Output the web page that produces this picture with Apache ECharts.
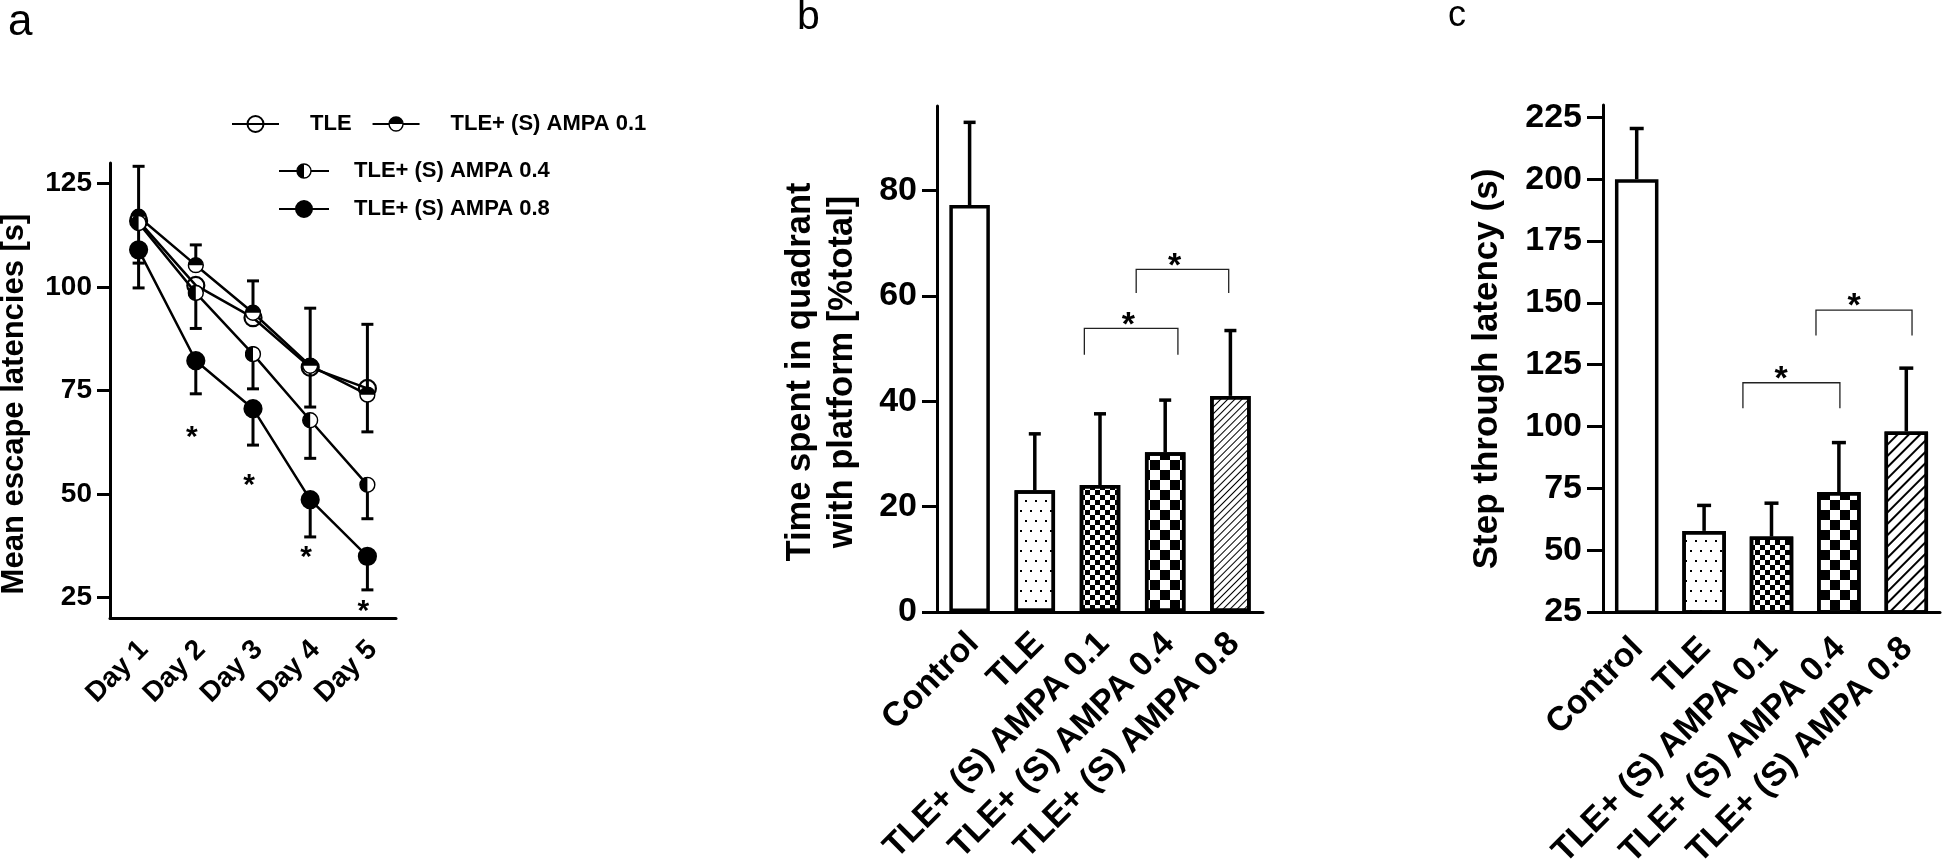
<!DOCTYPE html>
<html><head><meta charset="utf-8">
<script src="https://cdn.jsdelivr.net/npm/echarts@6/dist/echarts.min.js"></script>
<style>html,body{margin:0;padding:0;background:#fff}#c{width:1946px;height:860px}</style>
</head><body><div id="c"></div>
<script>
// ---------- Panel a data ----------
const days = ['Day 1', 'Day 2', 'Day 3', 'Day 4', 'Day 5'];
const groupsA = ['TLE', 'TLE+ (S) AMPA 0.1', 'TLE+ (S) AMPA 0.4', 'TLE+ (S) AMPA 0.8'];
const tleMean   = [116, 100.4, 92.6, 80.6, 75.5];
const amp01Mean = [117, 105.3, 93.8, 81.0, 74.0];
const amp04Mean = [115.5, 98.6, 83.8, 67.8, 52.2];
const amp08Mean = [109, 82.2, 70.6, 48.6, 34.9];
const tleErrUp     = [13.2, null, null, 14.3, 15.5];
const tleErrDown   = [null, 10.4, null, null, null];
const amp01ErrUp   = [null, 4.9, 7.7, null, null];
const amp01ErrDown = [null, null, null, 10, 9];
const amp04ErrUp   = [null, null, null, null, null];
const amp04ErrDown = [9.7, null, 8.4, 9.2, 8.2];
const amp08ErrUp   = [null, null, null, null, null];
const amp08ErrDown = [9.2, 8, 8.8, 9, 8.1];
const latencyTicks = [25, 50, 75, 100, 125];
const starsA = [[1, 65], [2, 53.4], [3, 36.1], [4, 22.9]];
const titleA = 'Mean escape latencies [s]';

// ---------- Panel b / c data ----------
const groupsBC = ['Control', 'TLE', 'TLE+ (S) AMPA 0.1', 'TLE+ (S) AMPA 0.4', 'TLE+ (S) AMPA 0.8'];
const quadrantMean = [77.2, 23.1, 24.1, 30.3, 41.0];
const quadrantErr  = [15.7, 10.7, 13.5, 9.9, 12.4];
const quadrantTicks = [0, 20, 40, 60, 80];
const titleB = 'Time spent in quadrant\nwith platform [%total]';
const stepMean = [200, 57.8, 55.5, 73.5, 98];
const stepErr  = [20.5, 10.3, 13.5, 20, 25.6];
const stepTicks = [25, 50, 75, 100, 125, 150, 175, 200, 225];
const titleC = 'Step through latency (s)';
// [left position, right position, bracket value, leg end value, star position]
const bracketsB = [[1.76, 3.195, 53.8, 48.8, 2.434], [2.555, 3.974, 65.0, 60.5, 3.143]];
const bracketsC = [[1.576, 3.015, 117.7, 107.4, 2.144], [2.66, 4.085, 147.1, 136.8, 3.227]];

// ---------- styles ----------
const FF = '"Liberation Sans", Arial, sans-serif';
function halfSym(path) {
  const svg = '<svg xmlns="http://www.w3.org/2000/svg" width="40" height="40" viewBox="0 0 40 40">' +
    '<circle cx="20" cy="20" r="17.5" fill="#fff" stroke="#000" stroke-width="3.5"/>' +
    '<path d="' + path + '" fill="#000"/></svg>';
  return 'image://data:image/svg+xml;charset=utf-8,' + encodeURIComponent(svg);
}
const symTop = halfSym('M2.5,20 A17.5,17.5 0 0 1 37.5,20 Z');
const symLeft = halfSym('M20,2.5 A17.5,17.5 0 0 0 20,37.5 Z');

const decalDots = {symbol: 'rect', symbolSize: 1, color: '#000', dashArrayX: [[2, 8], [0, 5, 2, 3]], dashArrayY: [2, 8]};
const decalFine = {symbol: 'rect', symbolSize: 1, color: '#000', dashArrayX: [[5, 5], [0, 5, 5, 0]], dashArrayY: [5, 0]};
const decalCoarse = {symbol: 'rect', symbolSize: 1, color: '#000', dashArrayX: [[10, 10], [0, 10, 10, 0]], dashArrayY: [10, 0]};
function decalHatch(w, gap) {
  return {symbol: 'rect', symbolSize: 1, symbolKeepAspect: false, color: '#000', dashArrayX: [20, 0], dashArrayY: [w, gap], rotation: -Math.PI / 4};
}
const decalsB = [null, decalDots, decalFine, decalCoarse, decalHatch(1, 4)];
const decalsC = [null, decalDots, decalFine, decalCoarse, decalHatch(2, 6)];

// ---------- helpers ----------
function errRender(capHalf, lw) {
  return function (params, api) {
    const x = api.value(0);
    const p0 = api.coord([x, api.value(1)]);
    const p1 = api.coord([x, api.value(2)]);
    return {type: 'group', children: [
      {type: 'line', shape: {x1: p0[0], y1: p0[1], x2: p1[0], y2: p1[1]}, style: {stroke: '#000', lineWidth: lw}},
      {type: 'line', shape: {x1: p1[0] - capHalf, y1: p1[1], x2: p1[0] + capHalf, y2: p1[1]}, style: {stroke: '#000', lineWidth: lw}}
    ]};
  };
}
function bracketRender(list, fontSize) {
  return function (params, api) {
    const b = list[params.dataIndex];
    const bw = api.size([1, 0])[0];
    const px = p => { const c = Math.round(p); return api.coord([c, 0])[0] + (p - c) * bw; };
    const yTop = api.coord([0, b[2]])[1];
    const yLeg = api.coord([0, b[3]])[1];
    const xl = px(b[0]), xr = px(b[1]);
    return {type: 'group', children: [
      {type: 'polyline', shape: {points: [[xl, yLeg], [xl, yTop], [xr, yTop], [xr, yLeg]]}, style: {stroke: '#222', lineWidth: 1.3, fill: null}},
      {type: 'text', x: px(b[4]), y: yTop - 3, style: {text: '*', font: 'bold ' + fontSize + 'px ' + FF, fill: '#000', align: 'center', verticalAlign: 'middle'}}
    ]};
  };
}

const errItemsA = [];
[[tleMean, tleErrUp, tleErrDown], [amp01Mean, amp01ErrUp, amp01ErrDown],
 [amp04Mean, amp04ErrUp, amp04ErrDown], [amp08Mean, amp08ErrUp, amp08ErrDown]].forEach(([m, up, dn]) => {
  m.forEach((v, j) => {
    if (up[j] != null) errItemsA.push([j, v, v + up[j]]);
    if (dn[j] != null) errItemsA.push([j, v, v - dn[j]]);
  });
});

function lineSeries(name, data, symbol, fill) {
  return {type: 'line', name: name, xAxisIndex: 0, yAxisIndex: 0, data: data, symbol: symbol, symbolSize: 17,
    showAllSymbol: true, lineStyle: {color: '#000', width: 2.5},
    itemStyle: {color: fill, borderColor: '#000', borderWidth: 2.2}, z: 3};
}

const axisLineStyle = {show: true, lineStyle: {color: '#000', width: 3}};
function xCat(grid, data, fs, margin, lh, padR) {
  return {type: 'category', gridIndex: grid, data: data, boundaryGap: true,
    axisLine: axisLineStyle, axisTick: {show: false},
    axisLabel: {interval: 0, hideOverlap: false, rotate: 45, color: '#000', fontFamily: FF, fontWeight: 'bold',
      fontSize: fs, margin: margin, verticalAlign: 'top', lineHeight: lh, padding: [0, padR, 0, 0]},
    splitLine: {show: false}};
}
function yVal(grid, min, max, ticks, fs, tickLen, lblMargin) {
  return {type: 'value', gridIndex: grid, min: min, max: max,
    axisLine: axisLineStyle,
    axisTick: {show: true, length: tickLen, lineStyle: {color: '#000', width: 3}, customValues: ticks},
    axisLabel: {customValues: ticks, color: '#000', fontFamily: FF, fontWeight: 'bold', fontSize: fs, margin: lblMargin},
    splitLine: {show: false}};
}
function yTitle(text, x, y, fs, lh) {
  return {type: 'text', x: x, y: y, rotation: Math.PI / 2, silent: true,
    style: {text: text, font: 'bold ' + fs + 'px ' + FF, fill: '#000', align: 'center', verticalAlign: 'middle', lineHeight: lh}};
}

const legendText = pad => ({color: '#000', fontFamily: FF, fontWeight: 'bold', fontSize: 22, padding: [0, 0, 0, pad]});

const option = {
  animation: false,
  backgroundColor: '#fff',
  title: [
    {text: 'a', left: 8, top: 1, padding: 0, textStyle: {fontFamily: FF, fontWeight: 'normal', fontSize: 44, color: '#000'}},
    {text: 'b', left: 797, top: -3, padding: 0, textStyle: {fontFamily: FF, fontWeight: 'normal', fontSize: 41, color: '#000'}},
    {text: 'c', left: 1448, top: -2, padding: 0, textStyle: {fontFamily: FF, fontWeight: 'normal', fontSize: 36, color: '#000'}}
  ],
  graphic: [
    yTitle(titleA, 14, 404, 31, 36),
    yTitle(titleB, 821, 372, 34.5, 42),
    yTitle(titleC, 1487, 369, 35, 40)
  ],
  legend: [
    {data: [groupsA[0], groupsA[1]], left: 231, top: 113, padding: 0, itemWidth: 47, itemHeight: 20, itemGap: 20,
      selectedMode: false, textStyle: legendText(26)},
    {data: [groupsA[2], groupsA[3]], orient: 'vertical', left: 278, top: 160, padding: 0, itemWidth: 50, itemHeight: 20, itemGap: 16,
      selectedMode: false, textStyle: legendText(20)}
  ],
  grid: [
    {left: 110, top: 163, width: 286, height: 455, containLabel: false, outerBoundsMode: 'none'},
    {left: 937, top: 106, width: 326, height: 506, containLabel: false, outerBoundsMode: 'none'},
    {left: 1603, top: 105, width: 337, height: 507, containLabel: false, outerBoundsMode: 'none'}
  ],
  xAxis: [
    xCat(0, days, 28, 12, 29, 7),
    xCat(1, groupsBC, 34, 17, 19, 4),
    xCat(2, groupsBC, 34, 19, 19, 8)
  ],
  yAxis: [
    yVal(0, 20, 130, latencyTicks, 28, 13, 18),
    yVal(1, 0, 96, quadrantTicks, 34, 15, 20),
    yVal(2, 25, 230, stepTicks, 34, 16, 21)
  ],
  series: [
    {type: 'custom', name: 'errA', xAxisIndex: 0, yAxisIndex: 0, data: errItemsA, encode: {x: 0, y: [1, 2]},
      renderItem: errRender(6, 3), z: 2},
    lineSeries(groupsA[0], tleMean, 'circle', 'rgba(255,255,255,0)'),
    lineSeries(groupsA[1], amp01Mean, symTop, '#fff'),
    lineSeries(groupsA[2], amp04Mean, symLeft, '#fff'),
    lineSeries(groupsA[3], amp08Mean, 'circle', '#000'),
    {type: 'custom', name: 'starsA', xAxisIndex: 0, yAxisIndex: 0, data: starsA, encode: {x: 0, y: 1}, z: 4,
      renderItem: function (params, api) {
        const p = api.coord([api.value(0), api.value(1)]);
        return {type: 'text', x: p[0] - 4, y: p[1] + 6,
          style: {text: '*', font: 'bold 30px ' + FF, fill: '#000', align: 'center', verticalAlign: 'middle'}};
      }},

    {type: 'bar', name: 'quadrant', xAxisIndex: 1, yAxisIndex: 1, barWidth: 40.5,
      data: quadrantMean.map((v, i) => ({value: v, itemStyle: decalsB[i] ? {decal: decalsB[i]} : {}})),
      itemStyle: {color: '#fff', borderColor: '#000', borderWidth: 3.5}},
    {type: 'custom', name: 'errB', xAxisIndex: 1, yAxisIndex: 1, encode: {x: 0, y: [1, 2]},
      data: quadrantMean.map((v, i) => [i, v, v + quadrantErr[i]]), renderItem: errRender(6, 3.5), z: 3},
    {type: 'custom', name: 'bracketsB', xAxisIndex: 1, yAxisIndex: 1, encode: {x: 0, y: 1},
      data: bracketsB.map(b => [Math.round(b[4]), b[2]]), renderItem: bracketRender(bracketsB, 34), z: 4},

    {type: 'bar', name: 'step', xAxisIndex: 2, yAxisIndex: 2, barWidth: 43.5,
      data: stepMean.map((v, i) => ({value: v, itemStyle: decalsC[i] ? {decal: decalsC[i]} : {}})),
      itemStyle: {color: '#fff', borderColor: '#000', borderWidth: 3.5}},
    {type: 'custom', name: 'errC', xAxisIndex: 2, yAxisIndex: 2, encode: {x: 0, y: [1, 2]},
      data: stepMean.map((v, i) => [i, v, v + stepErr[i]]), renderItem: errRender(7, 3.5), z: 3},
    {type: 'custom', name: 'bracketsC', xAxisIndex: 2, yAxisIndex: 2, encode: {x: 0, y: 1},
      data: bracketsC.map(b => [Math.round(b[4]), b[2]]), renderItem: bracketRender(bracketsC, 34), z: 4}
  ]
};
const chart = echarts.init(document.getElementById('c'), null, {renderer: 'canvas'});
chart.setOption(option);
</script></body></html>
